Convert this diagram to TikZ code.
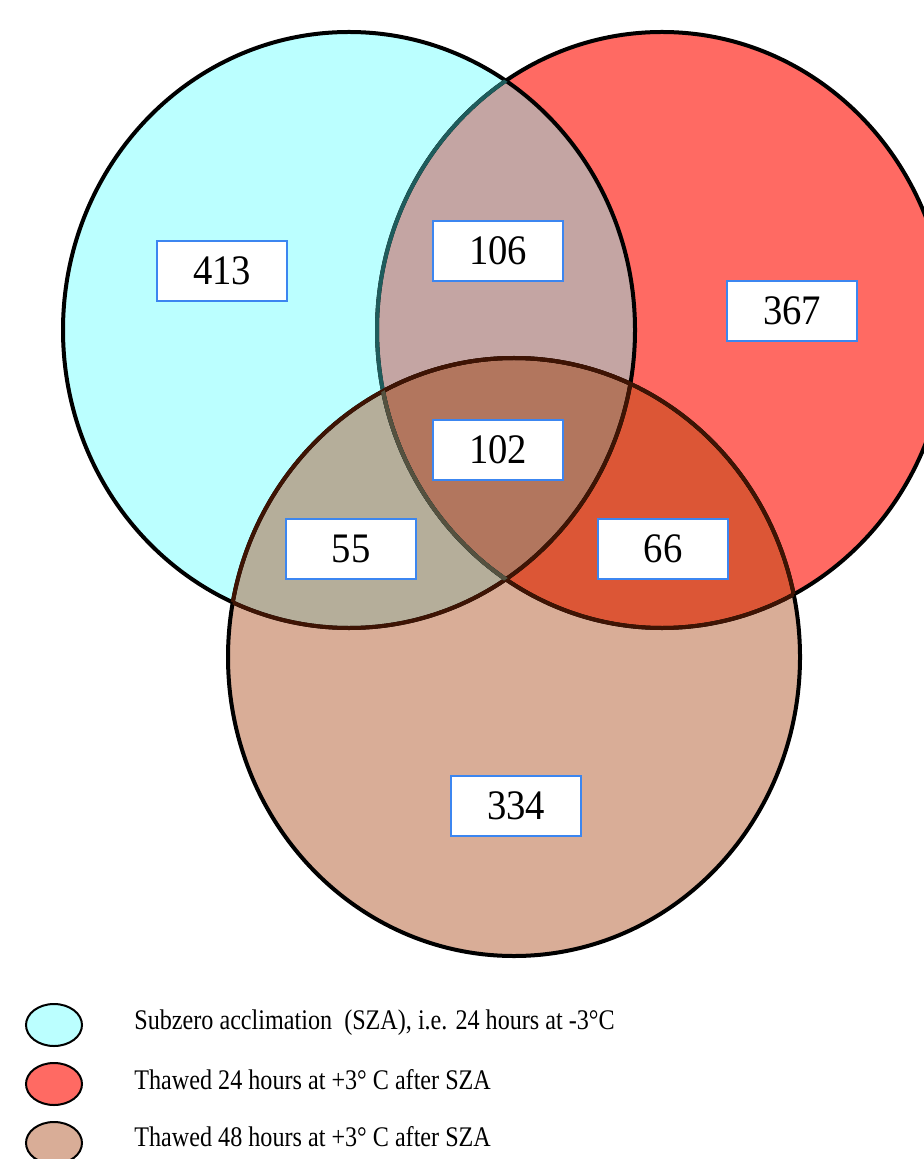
\documentclass[tikz,border=0pt]{standalone}
\usepackage{fontspec}
\usepackage{graphicx}
\setmainfont{Liberation Serif}
\usetikzlibrary{shapes.geometric}

\definecolor{szacol}{HTML}{BBFFFF}
\definecolor{thawacol}{HTML}{FF6A63}
\definecolor{thawbcol}{HTML}{D9AD97}
\definecolor{abcol}{HTML}{C4A5A3}
\definecolor{accol}{HTML}{B5AE9A}
\definecolor{bccol}{HTML}{DC5636}
\definecolor{abccol}{HTML}{B2765E}
\definecolor{boxblue}{HTML}{3C86F0}
\definecolor{tealline}{HTML}{1E5C5C}
\definecolor{oliveline}{HTML}{55513F}
\definecolor{brownline}{HTML}{3E1404}

\newcommand{\setA}{(349,330) ellipse [x radius=286, y radius=298]}
\newcommand{\setB}{(662,330) ellipse [x radius=285, y radius=298]}
\newcommand{\setC}{(514,657) ellipse [x radius=286, y radius=299]}
\newcommand{\squeeze}[1]{\scalebox{0.85}[1]{#1}}
\newcommand{\genecount}[1]{\scalebox{0.92}[1]{#1}}

\tikzset{countbox/.style = {draw = boxblue, fill = white, line width = 1pt,
                            minimum width = 65pt, minimum height = 30pt, inner sep = 0pt,
                            font = \fontsize{21}{21}\selectfont},
         rim/.style = {line width = 2pt},
         legendmark/.style = {ellipse, draw, line width = 1pt,
                              minimum width = 28pt, minimum height = 21pt, inner sep = 0pt},
         legendtxt/.style = {anchor = west, inner sep = 0pt,
                             font = \fontsize{14.2}{16}\selectfont}
        }

\begin{document}
\begin{tikzpicture}[x = 0.5pt, y = -0.5pt]
  \useasboundingbox (0,0) rectangle (923,1159);
  % set fills
  \fill[szacol] \setA;
  \fill[thawacol] \setB;
  \fill[thawbcol] \setC;
  \begin{scope}
    \clip \setA;
    \fill[abcol] \setB;
  \end{scope}
  \begin{scope}
    \clip \setA;
    \fill[accol] \setC;
  \end{scope}
  \begin{scope}
    \clip \setB;
    \fill[bccol] \setC;
  \end{scope}
  \begin{scope}
    \clip \setA;
    \clip \setB;
    \fill[abccol] \setC;
  \end{scope}
  % outlines
  \draw[rim] \setA;
  \draw[rim] \setB;
  \draw[rim] \setC;
  \begin{scope}
    \clip \setC;
    \draw[rim, brownline] \setA;
    \draw[rim, brownline] \setB;
  \end{scope}
  \begin{scope}
    \clip \setA;
    \draw[rim, tealline] \setB;
    \draw[rim, brownline] \setC;
  \end{scope}
  \begin{scope}
    \clip \setB;
    \draw[rim, brownline] \setC;
  \end{scope}
  \begin{scope}
    \clip \setA;
    \clip \setC;
    \draw[rim, oliveline] \setB;
  \end{scope}
  % counts
  \node[countbox] (onlysza) at (222,271) {\genecount{413}};
  \node[countbox] (szathawa) at (498,251) {\genecount{106}};
  \node[countbox] (onlythawa) at (792,311) {\genecount{367}};
  \node[countbox] (allthree) at (498,450) {\genecount{102}};
  \node[countbox] (szathawb) at (351,549) {\genecount{55}};
  \node[countbox] (thawathawb) at (663,549) {\genecount{66}};
  \node[countbox] (onlythawb) at (516,806) {\genecount{334}};
  % legend
  \node[legendmark, fill = szacol] (keysza) at (54,1025) {};
  \node[legendmark, fill = thawacol] (keythawa) at (54,1084) {};
  \node[legendmark, fill = thawbcol] (keythawb) at (54,1143) {};
  \node[legendtxt] (txtsza) at (134,1023) {\squeeze{Subzero acclimation\ \ (SZA), i.e. 24 hours at -3°C}};
  \node[legendtxt] (txtthawa) at (134,1080) {\squeeze{Thawed 24 hours at +3° C after SZA}};
  \node[legendtxt] (txtthawb) at (134,1137) {\squeeze{Thawed 48 hours at +3° C after SZA}};
\end{tikzpicture}
\end{document}
